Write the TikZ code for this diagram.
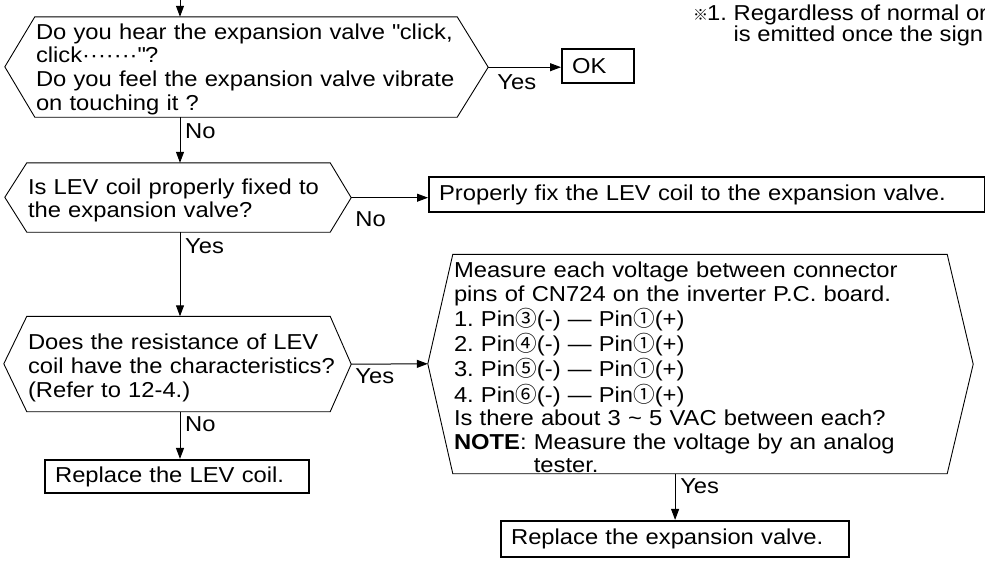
\documentclass[tikz,border=0pt]{standalone}
\usepackage{fontspec}
\setmainfont{Liberation Sans}[FakeStretch=1.1]
\newfontfamily\cjkfont{Noto Sans CJK JP}
\usetikzlibrary{arrows.meta,positioning}
\frenchspacing

\newcommand{\cnum}[1]{{\cjkfont #1}}

\tikzset{
  txt/.style={font=\fontsize{21.6}{23.8}\selectfont,inner sep=0pt},
  body/.style 2 args={txt,text height=#1,text depth=#2,inner xsep=1pt,inner ysep=0pt},
  okbox/.style={txt,draw,line width=2.2pt,inner xsep=10pt,align=left,anchor=west},
  hexline/.style={line width=0.9pt},
  flow/.style={line width=1pt,-{Triangle[length=11pt,width=8pt]}},
  lbl/.style={txt,inner sep=1pt}
}

\begin{document}
\begin{tikzpicture}[x=1pt,y=-1pt]
\useasboundingbox (0,0) rectangle (985,563);
\clip (0,0) rectangle (985,563);
\coordinate (top) at (180,0);

\node[body={22pt}{78pt},text width=420] (q1) at (246,67) {\noindent\begin{tabular}[t]{@{}l@{}}
Do you hear the expansion valve \textquotedbl click,\\
click·······\textquotedbl ?\\
Do you feel the expansion valve vibrate\\
on touching it ?\end{tabular}};
\draw[hexline] (q1.north west) -- ++(-30,50) -- (q1.south west) -- (q1.south east)
  -- ++(31,-50) coordinate (q1e) -- (q1.north east) -- cycle;

\node[body={31pt}{38pt},text width=301] (q2) at (178.5,197.5) {\noindent\begin{tabular}[t]{@{}l@{}}
Is LEV coil properly fixed to\\
the expansion valve?\end{tabular}};
\draw[hexline] (q2.north west) -- ++(-22,34.5) -- (q2.south west) -- (q2.south east)
  -- ++(21,-34.5) coordinate (q2e) -- (q2.north east) -- cycle;

\node[body={33pt}{62pt},text width=301] (q3) at (178.5,364) {\noindent\begin{tabular}[t]{@{}l@{}}
Does the resistance of LEV\\
coil have the characteristics?\\
(Refer to 12-4.)\end{tabular}};
\draw[hexline] (q3.north west) -- ++(-23,47.5) -- (q3.south west) -- (q3.south east)
  -- ++(21,-47.5) coordinate (q3e) -- (q3.north east) -- cycle;

\node[body={23pt}{196pt},text width=492,font=\fontsize{21.6}{23.5}\selectfont] (m) at (700,364) {\noindent\begin{tabular}[t]{@{}l@{}}
Measure each voltage between connector\\
pins of CN724 on the inverter P.C. board.\\
1. Pin\cnum{③}(-) — Pin\cnum{①}(+)\\
2. Pin\cnum{④}(-) — Pin\cnum{①}(+)\\
3. Pin\cnum{⑤}(-) — Pin\cnum{①}(+)\\
4. Pin\cnum{⑥}(-) — Pin\cnum{①}(+)\\
Is there about 3 \textasciitilde{} 5 VAC between each?\\
\textbf{NOTE}: Measure the voltage by an analog\\
\hphantom{\textbf{NOTE}: }tester.\end{tabular}};
\draw[hexline] (m.north west) -- ++(-25,109.5) coordinate (mw) -- (m.south west) -- (m.south east)
  -- ++(26,-109.5) -- (m.north east) -- cycle;

\node[okbox,minimum width=72,minimum height=34,text width=52] (ok) at (561,66) {OK};
\node[okbox,minimum width=556,minimum height=35,text width=536] (fix) at (428,194.5) {Properly fix the LEV coil to the expansion valve.};
\node[okbox,minimum width=264,minimum height=33,text width=244] (lev) at (44,476.5) {Replace the LEV coil.};
\node[okbox,minimum width=348,minimum height=36,text width=328] (rv) at (500,539) {Replace the expansion valve.};

\node[txt,font=\fontsize{21.6}{19.5}\selectfont,anchor=north west,align=left] (note) at (693,4.5)
  {\makebox[14pt][l]{\cjkfont\fontsize{15}{15}\selectfont ※}1. Regardless of normal or\\
  \hphantom{\makebox[14pt][l]{}1. }is emitted once the sign};

\draw[flow] (top) -- (top |- q1.north);
\draw[flow] (top |- q1.south) -- (top |- q2.north);
\draw[flow] (top |- q2.south) -- (top |- q3.north);
\draw[flow] (top |- q3.south) -- (top |- lev.north);
\draw[flow] (q1e) -- (q1e -| ok.west);
\draw[flow] (q2e) -- (q2e -| fix.west);
\draw[flow] (q3e) -- (mw);
\draw[flow] (rv.north |- m.south) -- (rv.north);

\node[lbl,below right=5pt and 4pt] (no1) at (top |- q1.south) {No};
\node[lbl,below right=6pt and 8pt] (yes1) at (q1e) {Yes};
\node[lbl,below right=13pt and 3pt] (no2) at (q2e) {No};
\node[lbl,below right=5pt and 4pt] (yes2) at (top |- q2.south) {Yes};
\node[lbl,below right=3pt and 3pt] (yes3) at (q3e) {Yes};
\node[lbl,below right=4pt and 4pt] (no3) at (top |- q3.south) {No};
\node[lbl,below right=4pt and 4pt] (yes4) at (rv.north |- m.south) {Yes};
\end{tikzpicture}
\end{document}
